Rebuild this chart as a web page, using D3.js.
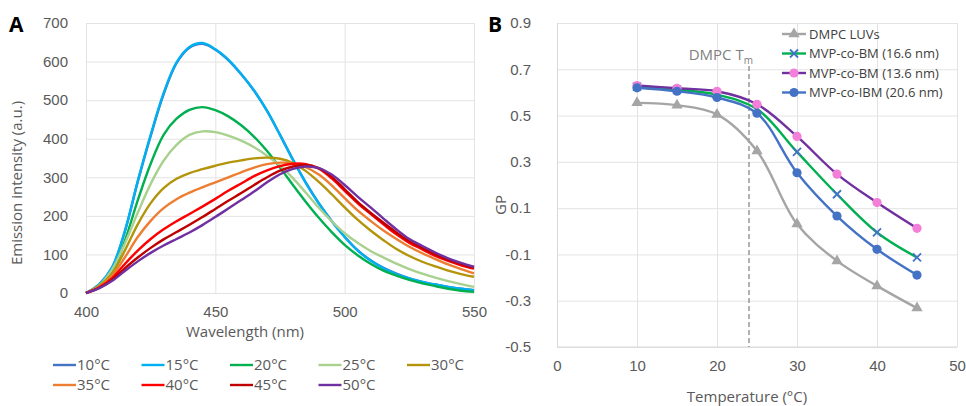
<!DOCTYPE html>
<html>
<head>
<meta charset="utf-8">
<script src="https://cdn.jsdelivr.net/npm/d3@7"></script>
<style>
	body { margin: 0; background: #fff; }
	svg { font-family: 'Open Sans', sans-serif; }
	.tick text { fill: #595959; }
</style>
</head>
<body>
<div id="chart"></div>
<script>
// ---- panel A: emission spectra ----
const wavelengths = [400, 405, 410, 415, 420, 425, 430, 435, 440, 445, 450, 455, 460, 465, 470, 475,
	480, 485, 490, 495, 500, 505, 510, 515, 520, 525, 530, 535, 540, 545, 550];

const temps = ['10°C', '15°C', '20°C', '25°C', '30°C', '35°C', '40°C', '45°C', '50°C'];
const tempColors = ['#4472C4', '#00B0F0', '#00B050', '#A9D18E', '#B3940A', '#ED7D31', '#FF0000', '#C00000', '#7030A0'];

const spec10 = [0, 22, 65, 159, 288, 407, 515, 596, 636, 646, 631, 604, 567, 524, 472, 410, 346, 286, 233, 187, 146, 111, 85, 65, 50, 38, 29, 22, 16, 11, 7];
const spec15 = [0, 22, 65, 160, 290, 410, 518, 598, 638, 648, 632, 605, 568, 525, 472, 410, 345, 285, 232, 186, 145, 110, 84, 64, 49, 38, 29, 22, 16, 11, 7];
const spec20 = [0, 18, 52, 135, 240, 335, 410, 452, 475, 482, 474, 458, 435, 405, 368, 325, 280, 236, 195, 158, 125, 98, 76, 58, 45, 34, 25, 18, 11, 6, 3];
const spec25 = [0, 19, 60, 128, 208, 283, 343, 384, 410, 419, 417, 408, 395, 378, 356, 330, 298, 260, 221, 186, 155, 130, 109, 92, 76, 62, 50, 40, 31, 23, 16];
const spec30 = [0, 18, 50, 110, 178, 233, 272, 296, 311, 321, 330, 338, 344, 349, 351, 348, 337, 316, 288, 256, 222, 190, 162, 137, 114, 96, 81, 69, 58, 49, 42];
const spec35 = [0, 16, 44, 92, 145, 187, 220, 243, 260, 274, 287, 300, 313, 325, 334, 338, 336, 326, 307, 279, 246, 214, 187, 162, 140, 120, 103, 88, 74, 62, 51];
const spec40 = [0, 14, 38, 75, 110, 140, 165, 186, 205, 224, 244, 265, 284, 303, 318, 329, 335, 334, 322, 297, 265, 233, 205, 178, 152, 130, 113, 96, 83, 72, 63];
const spec45 = [0, 13, 34, 64, 92, 117, 139, 158, 177, 197, 218, 239, 259, 280, 300, 317, 328, 332, 324, 301, 269, 236, 208, 182, 157, 134, 117, 100, 86, 75, 66];
const spec50 = [0, 12, 31, 57, 82, 104, 123, 140, 157, 176, 197, 219, 241, 263, 287, 308, 322, 328, 324, 307, 280, 250, 222, 193, 165, 140, 122, 105, 90, 78, 68];
const spectra = [spec10, spec15, spec20, spec25, spec30, spec35, spec40, spec45, spec50];

const aYTicks = [0, 100, 200, 300, 400, 500, 600, 700];
const aXTicks = [400, 450, 500, 550];

// ---- panel B: GP vs temperature ----
const temperatures = [10, 15, 20, 25, 30, 35, 40, 45];
const gpLabels = ['DMPC LUVs', 'MVP-co-BM (16.6 nm)', 'MVP-co-BM (13.6 nm)', 'MVP-co-IBM (20.6 nm)'];
const gpDmpc = [0.555, 0.545, 0.505, 0.347, 0.031, -0.128, -0.236, -0.332];
const gpBm166 = [0.625, 0.612, 0.59, 0.528, 0.343, 0.16, -0.005, -0.113];
const gpBm136 = [0.63, 0.618, 0.605, 0.549, 0.41, 0.247, 0.124, 0.013];
const gpIbm206 = [0.62, 0.605, 0.578, 0.51, 0.253, 0.066, -0.078, -0.189];
const gpSeries = [gpDmpc, gpBm166, gpBm136, gpIbm206];
const gpLineColors = ['#A5A5A5', '#00B050', '#7030A0', '#4472C4'];
const gpMarkerColors = ['#A5A5A5', '#4472C4', '#F47FD8', '#4472C4'];
const gpMarkers = ['triangle', 'cross', 'circle', 'circle'];

const bYTicks = [-0.5, -0.3, -0.1, 0.1, 0.3, 0.5, 0.7, 0.9];
const bXTicks = [0, 10, 20, 30, 40, 50];
const dmpcTm = 24;

const W = 966, H = 406;
const svg = d3.select('#chart').append('svg')
	.attr('width', W)
	.attr('height', H);

const grid = '#E3E3E3';
const textGrey = '#595959';

// ================= panel A =================
const ax = d3.scaleLinear().domain([400, 550]).range([86, 474]);
const ay = d3.scaleLinear().domain([0, 700]).range([293, 23]);

const gA = svg.append('g');

gA.append('g')
	.attr('transform', 'translate(86,0)')
	.call(d3.axisLeft(ay).tickValues(aYTicks).tickSize(-(474 - 86)).tickPadding(18))
	.call(g => g.select('.domain').remove())
	.call(g => g.selectAll('line').attr('stroke', grid))
	.call(g => g.selectAll('text').style('font-size', '15px'));

gA.append('g')
	.attr('transform', 'translate(0,293)')
	.call(d3.axisBottom(ax).tickValues(aXTicks).tickSize(-(293 - 23)).tickPadding(13))
	.call(g => g.select('.domain').remove())
	.call(g => g.selectAll('line').attr('stroke', grid))
	.call(g => g.selectAll('text').style('font-size', '15px'));

const specLine = d3.line()
	.x((d, i) => ax(wavelengths[i]))
	.y(d => ay(d))
	.curve(d3.curveCatmullRom);

gA.append('g')
	.selectAll('path')
	.data(spectra)
	.join('path')
	.attr('fill', 'none')
	.attr('stroke', (d, i) => tempColors[i])
	.attr('stroke-width', 2.4)
	.attr('d', specLine);

gA.append('text')
	.attr('x', 245).attr('y', 337)
	.attr('text-anchor', 'middle')
	.style('font-size', '15px')
	.attr('fill', textGrey)
	.text('Wavelength (nm)');

gA.append('text')
	.attr('transform', 'translate(22,183) rotate(-90)')
	.attr('text-anchor', 'middle')
	.style('font-size', '15px')
	.attr('fill', textGrey)
	.text('Emission intensity (a.u.)');

gA.append('text')
	.attr('x', 9).attr('y', 32)
	.style('font-size', '21px')
	.style('font-weight', 'bold')
	.attr('fill', '#000')
	.text('A');

// legend A
const legA = gA.append('g')
	.selectAll('g')
	.data(temps)
	.join('g')
	.attr('transform', (d, i) => `translate(${53 + (i % 5) * 88.5},${i < 5 ? 365 : 385})`);

legA.append('line')
	.attr('x1', 0).attr('x2', 23)
	.attr('stroke', (d, i) => tempColors[i])
	.attr('stroke-width', 2.4);

legA.append('text')
	.attr('x', 24).attr('dy', '0.35em')
	.style('font-size', '15px')
	.attr('fill', textGrey)
	.text(d => d);

// ================= panel B =================
const bx = d3.scaleLinear().domain([0, 50]).range([557, 957]);
const by = d3.scaleLinear().domain([-0.5, 0.9]).range([347, 23]);
const gpFormat = d => d3.format('.1f')(d).replace('\u2212', '-');

const gB = svg.append('g');

gB.append('g')
	.attr('transform', 'translate(557,0)')
	.call(d3.axisLeft(by).tickValues(bYTicks).tickFormat(gpFormat).tickSize(-(957 - 557)).tickPadding(26))
	.call(g => g.select('.domain').remove())
	.call(g => g.selectAll('line').attr('stroke', grid))
	.call(g => g.selectAll('text').style('font-size', '15px'));

gB.append('g')
	.attr('transform', 'translate(0,347)')
	.call(d3.axisBottom(bx).tickValues(bXTicks).tickSize(-(347 - 23)).tickPadding(13))
	.call(g => g.select('.domain').remove())
	.call(g => g.selectAll('line').attr('stroke', (d, i) => i === 0 ? '#D9D9D9' : grid))
	.call(g => g.selectAll('text').style('font-size', '15px'));

gB.append('line')
	.attr('x1', 557).attr('x2', 957)
	.attr('y1', 347).attr('y2', 347)
	.attr('stroke', '#D9D9D9');

// DMPC Tm marker
gB.append('line')
	.attr('x1', bx(dmpcTm)).attr('x2', bx(dmpcTm))
	.attr('y1', 66).attr('y2', 347)
	.attr('stroke', '#7F7F7F')
	.attr('stroke-width', 1.2)
	.attr('stroke-dasharray', '5,3');

const tmLabel = gB.append('text')
	.attr('x', bx(dmpcTm) + 4).attr('y', 60)
	.attr('text-anchor', 'end')
	.style('font-size', '15px')
	.attr('fill', '#7F7F7F');
tmLabel.append('tspan').text('DMPC T');
tmLabel.append('tspan').attr('dy', 4).style('font-size', '10px').text('m');

const gpLine = d3.line()
	.x((d, i) => bx(temperatures[i]))
	.y(d => by(d))
	.curve(d3.curveCatmullRom);

const drawMarker = (sel, type, color) => {
	if (type === 'triangle') {
		sel.append('path')
			.attr('d', d3.symbol(d3.symbolTriangle, 55)())
			.attr('fill', color);
	} else if (type === 'cross') {
		sel.append('path')
			.attr('d', 'M-4,-4L4,4M-4,4L4,-4')
			.attr('stroke', color)
			.attr('stroke-width', 1.8)
			.attr('fill', 'none');
	} else {
		sel.append('circle')
			.attr('r', 4.6)
			.attr('fill', color);
	}
};

gpSeries.forEach((vals, s) => {
	const g = gB.append('g');
	g.append('path')
		.datum(vals)
		.attr('fill', 'none')
		.attr('stroke', gpLineColors[s])
		.attr('stroke-width', 2.4)
		.attr('d', gpLine);

	const pts = g.selectAll('g')
		.data(vals)
		.join('g')
		.attr('transform', (d, i) => `translate(${bx(temperatures[i])},${by(d)})`);
	drawMarker(pts, gpMarkers[s], gpMarkerColors[s]);
});

gB.append('text')
	.attr('x', 747).attr('y', 402)
	.attr('text-anchor', 'middle')
	.style('font-size', '15px')
	.attr('fill', textGrey)
	.text('Temperature (°C)');

gB.append('text')
	.attr('transform', 'translate(506,205) rotate(-90)')
	.attr('text-anchor', 'middle')
	.style('font-size', '15px')
	.attr('fill', textGrey)
	.text('GP');

gB.append('text')
	.attr('x', 488).attr('y', 32)
	.style('font-size', '21px')
	.style('font-weight', 'bold')
	.attr('fill', '#000')
	.text('B');

// legend B
const legB = gB.append('g')
	.selectAll('g')
	.data(gpLabels)
	.join('g')
	.attr('transform', (d, i) => `translate(782,${34 + i * 19.5})`);

legB.append('line')
	.attr('x1', 0).attr('x2', 24)
	.attr('stroke', (d, i) => gpLineColors[i])
	.attr('stroke-width', 2.4);

legB.each(function (d, i) {
	const m = d3.select(this).append('g').attr('transform', 'translate(12,0)');
	drawMarker(m, gpMarkers[i], gpMarkerColors[i]);
});

legB.append('text')
	.attr('x', 27).attr('dy', '0.35em')
	.style('font-size', '13px')
	.attr('fill', '#404040')
	.text(d => d);
</script>
</body>
</html>
